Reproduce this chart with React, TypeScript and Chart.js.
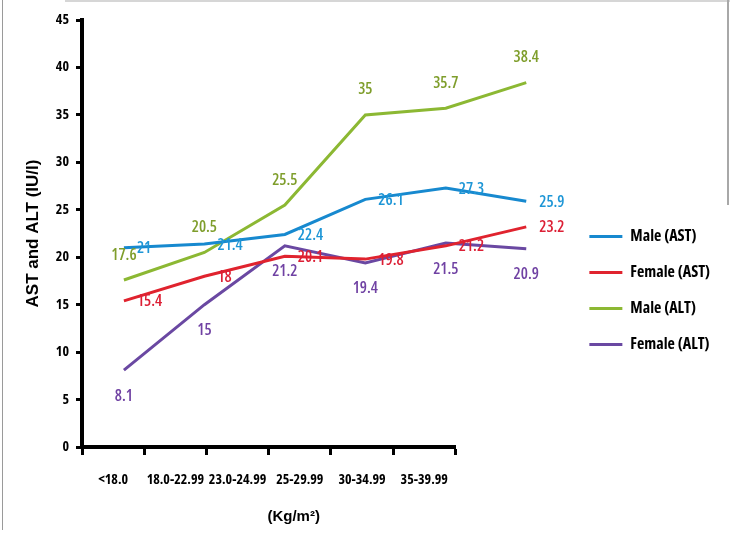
import React, { useEffect, useRef } from "react";
import { Chart, registerables } from "chart.js";

Chart.register(...registerables);

// ---- data ----
const categories = ["<18.0", "18.0-22.99", "23.0-24.99", "25-29.99", "30-34.99", "35-39.99"];
const seriesNames = ["Male (AST)", "Female (AST)", "Male (ALT)", "Female (ALT)"];
const maleAST = [21, 21.4, 22.4, 26.1, 27.3, 25.9];
const femaleAST = [15.4, 18, 20.1, 19.8, 21.2, 23.2];
const maleALT = [17.6, 20.5, 25.5, 35, 35.7, 38.4];
const femaleALT = [8.1, 15, 21.2, 19.4, 21.5, 20.9];
const yMin = 0;
const yMax = 45;
const yStep = 5;
const yTitle = "AST and ALT (IU/l)";
const xTitle = "(Kg/m²)";

// ---- styles ----
const COND = "'Open Sans', 'Roboto Condensed', sans-serif";
const ARIAL = "'Liberation Sans', Arial, sans-serif";

const styles = [
  { line: "#1789cf", label: "#1e96d6", pos: "right" },
  { line: "#e0232e", label: "#dc1f35", pos: "right" },
  { line: "#8cb833", label: "#7f9e2c", pos: "above" },
  { line: "#6a48a2", label: "#7042a3", pos: "below" },
];

const valueLabels = {
  id: "valueLabels",
  afterDatasetsDraw(chart: any) {
    const ctx = chart.ctx;
    ctx.save();
    ctx.font = `600 condensed 16px ${COND}`;
    chart.data.datasets.forEach((ds: any, i: number) => {
      const meta = chart.getDatasetMeta(i);
      if (meta.hidden) return;
      ctx.fillStyle = ds.labelColor;
      ctx.textBaseline = "middle";
      meta.data.forEach((el: any, j: number) => {
        const txt = String(ds.rawValues[j]);
        if (ds.labelPos === "right") {
          ctx.textAlign = "left";
          ctx.fillText(txt, el.x + 13, el.y + 1);
        } else if (ds.labelPos === "above") {
          ctx.textAlign = "center";
          ctx.fillText(txt, el.x, el.y - 25);
        } else {
          ctx.textAlign = "center";
          ctx.fillText(txt, el.x, el.y + 26);
        }
      });
    });
    ctx.restore();
  },
};

const condBold = (size: number) => ({ family: COND, size, weight: "bold condensed" as any });

export default function App() {
  const ref = useRef<HTMLCanvasElement | null>(null);

  useEffect(() => {
    if (!ref.current) return;
    const all = [maleAST, femaleAST, maleALT, femaleALT];
    const chart = new Chart(ref.current, {
      type: "line",
      data: {
        labels: categories,
        datasets: all.map((vals, i) => ({
          label: seriesNames[i],
          data: vals.map((v, j) => ({ x: j, y: v })),
          rawValues: vals,
          labelColor: styles[i].label,
          labelPos: styles[i].pos,
          xAxisID: "xd",
          yAxisID: "y",
          borderColor: styles[i].line,
          backgroundColor: styles[i].line,
          borderWidth: 3,
          pointRadius: 0,
          tension: 0,
          fill: false,
          clip: false,
        })) as any,
      },
      options: {
        responsive: false,
        animation: false,
        devicePixelRatio: 1,
        layout: { padding: { top: 20, left: 0, right: 10, bottom: 0 } },
        plugins: {
          tooltip: { enabled: false },
          legend: {
            position: "right",
            align: "start",
            maxWidth: 260,
            title: { display: true, text: "", padding: 87 },
            labels: {
              usePointStyle: true,
              pointStyle: "line",
              pointStyleWidth: 33,
              padding: 20,
              color: "#000",
              font: condBold(16),
            },
          },
        },
        scales: {
          x: {
            type: "category",
            position: "bottom",
            offset: true,
            grid: { offset: true, drawOnChartArea: false, drawTicks: true, tickLength: 8, tickWidth: 3, color: "#000" },
            border: { display: true, color: "#000", width: 4 },
            ticks: { color: "#000", padding: 17, maxRotation: 0, autoSkip: false, font: condBold(14) },
            title: {
              display: true,
              text: "            " + xTitle,
              color: "#000",
              font: { family: ARIAL, size: 15, weight: "bold" },
              padding: { top: 0, bottom: 9 },
            },
            afterFit: (s: any) => { s.height = 88; },
          },
          xd: {
            type: "linear",
            display: false,
            min: -0.521,
            max: 4.119,
          },
          y: {
            type: "linear",
            position: "left",
            min: yMin,
            max: yMax,
            ticks: { stepSize: yStep, color: "#000", padding: 7, font: condBold(14) },
            grid: { drawOnChartArea: false, drawTicks: true, tickLength: 6, tickWidth: 3, color: "#000" },
            border: { display: true, color: "#000", width: 4 },
            title: { display: true, text: yTitle, color: "#000", font: { family: ARIAL, size: 17, weight: "bold" }, padding: { top: 23, bottom: 0 } },
            afterFit: (s: any) => { s.width = 82; },
          },
          yr: {
            type: "linear",
            position: "right",
            display: true,
            grid: { display: false },
            border: { display: false },
            ticks: { display: false },
            afterFit: (s: any) => { s.width = 114; },
          },
        },
      } as any,
      plugins: [valueLabels],
    });
    return () => chart.destroy();
  }, []);

  return (
    <div style={{ position: "fixed", left: 0, top: 0, width: 730, height: 535, background: "#fff" }}>
      <canvas ref={ref} width={730} height={535} style={{ display: "block" }} />
      <div style={{ position: "absolute", left: 2, top: 0, width: 1, height: 530, background: "#9a9a9a" }} />
      <div style={{ position: "absolute", left: 65, top: 0, width: 665, height: 2, background: "#d6d6d6" }} />
      <div style={{ position: "absolute", left: 727, top: 0, width: 2, height: 205, background: "#a8a8a8" }} />
    </div>
  );
}
